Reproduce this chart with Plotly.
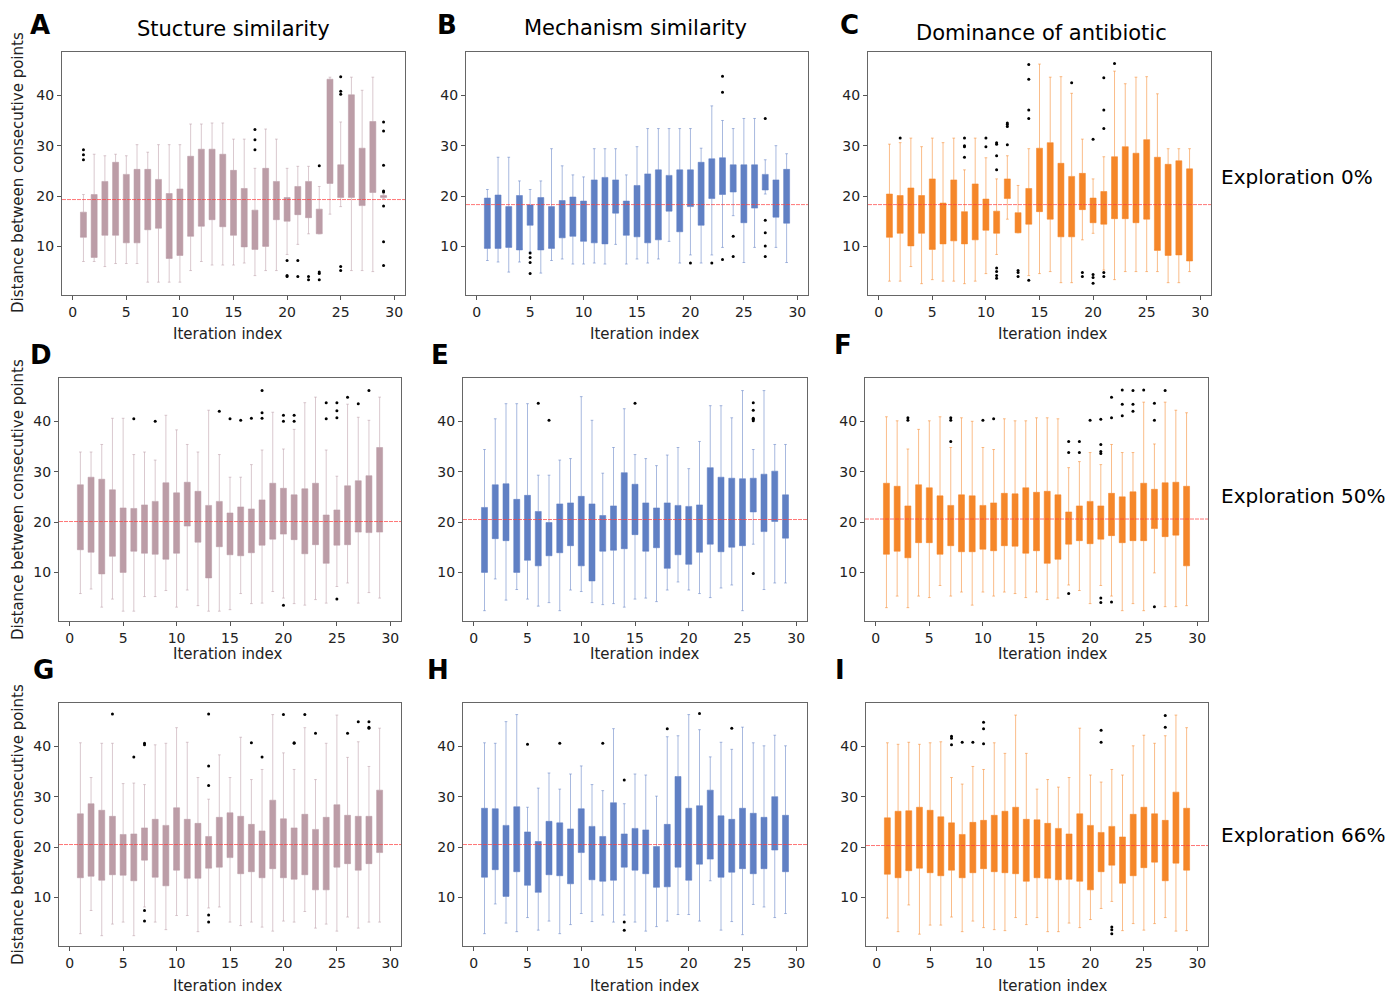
import plotly.graph_objects as go

# ---------------- data ----------------
iterations = list(range(1, 30))
x_ticks = [0, 5, 10, 15, 20, 25, 30]
y_ticks = [10, 20, 30, 40]

col_titles = ["Stucture similarity", "Mechanism similarity", "Dominance of antibiotic"]
row_labels = ["Exploration 0%", "Exploration 50%", "Exploration 66%"]
panel_letters = ["A", "B", "C", "D", "E", "F", "G", "H", "I"]
y_title = "Distance between consecutive points"
x_title = "Iteration index"

# Panel A
A_q1 = [11.8, 7.8, 12.2, 12.2, 10.7, 10.7, 13.3, 13.6, 7.6, 8.2, 12.0, 14.0, 15.3, 13.9, 12.2, 9.9, 9.4, 10.0, 15.3, 15.0, 16.3, 15.7, 12.5, 22.5, 19.7, 19.7, 18.1, 20.7, 19.7]
A_q3 = [16.8, 20.3, 22.9, 26.7, 24.3, 25.3, 25.3, 23.3, 20.5, 21.4, 27.9, 29.3, 29.3, 28.3, 25.1, 21.5, 17.2, 25.5, 22.9, 19.7, 21.9, 22.9, 17.4, 43.2, 26.2, 40.1, 29.5, 34.8, 20.1]
A_lo = [7.0, 7.0, 6.0, 6.6, 6.6, 6.6, 2.9, 2.9, 2.9, 2.9, 5.2, 7.0, 6.3, 6.3, 6.3, 6.7, 4.2, 5.2, 5.2, 8.4, 10.4, 12.5, 12.5, 16.4, 17.9, 5.2, 5.2, 5.0, 19.5]
A_hi = [20.3, 28.3, 28.0, 28.3, 28.0, 30.2, 28.7, 30.2, 30.2, 30.2, 34.3, 34.3, 34.5, 34.5, 31.3, 31.3, 25.5, 33.3, 31.3, 25.5, 25.9, 25.9, 21.9, 43.6, 34.7, 43.6, 41.0, 43.6, 20.4]
A_out_x = [1, 1, 1, 17, 17, 17, 20, 20, 20, 21, 21, 22, 22, 23, 23, 23, 23, 25, 25, 25, 25, 25, 29, 29, 29, 29, 29, 29, 29, 29]
A_out_y = [27.2, 28.2, 29.2, 29.2, 31.2, 33.2, 4.0, 4.2, 7.2, 4.0, 7.2, 3.4, 4.0, 26.0, 4.6, 4.9, 3.4, 40.2, 40.8, 43.7, 5.2, 6.0, 34.7, 32.9, 26.1, 21.0, 20.8, 18.0, 10.9, 6.2]
A_mean = 19.3

# Panel B
B_q1 = [9.6, 9.6, 9.8, 9.3, 14.2, 9.3, 9.6, 11.7, 12.0, 11.0, 10.7, 10.5, 16.6, 12.2, 11.9, 10.7, 11.3, 17.0, 12.9, 17.9, 14.2, 19.5, 20.3, 20.8, 14.7, 17.6, 21.2, 15.8, 14.6]
B_q3 = [19.6, 20.2, 17.9, 20.1, 18.2, 19.7, 17.9, 19.1, 19.8, 19.0, 23.2, 23.7, 23.2, 19.0, 22.1, 24.4, 25.2, 24.1, 25.2, 25.2, 26.7, 27.4, 27.6, 26.2, 26.2, 26.2, 24.3, 23.2, 25.3]
B_lo = [7.2, 6.9, 4.9, 6.9, 8.9, 4.7, 7.2, 7.5, 6.5, 6.5, 6.7, 6.5, 10.4, 6.5, 7.5, 6.7, 7.5, 11.0, 6.7, 8.3, 6.7, 8.3, 9.8, 16.1, 6.8, 9.8, 20.4, 9.8, 6.8]
B_hi = [21.3, 27.7, 27.7, 23.0, 21.3, 23.0, 29.4, 26.0, 24.2, 23.8, 29.4, 29.4, 29.4, 24.2, 29.8, 33.4, 33.4, 33.4, 33.4, 33.4, 29.5, 37.9, 35.0, 33.4, 35.4, 35.4, 27.2, 30.0, 28.4]
B_out_x = [5, 5, 5, 5, 20, 22, 23, 23, 23, 24, 24, 27, 27, 27, 27, 27]
B_out_y = [8.7, 7.8, 6.8, 4.6, 6.7, 6.7, 43.8, 40.6, 7.4, 12.0, 8.0, 35.4, 15.2, 12.7, 10.1, 8.0]
B_mean = 18.3

# Panel C
C_q1 = [11.8, 12.6, 10.1, 12.6, 9.4, 10.5, 11.1, 10.5, 11.3, 13.2, 12.6, 19.5, 12.7, 14.4, 16.9, 15.4, 11.9, 11.9, 17.3, 14.7, 14.4, 15.5, 15.5, 14.7, 15.4, 9.2, 8.2, 8.3, 7.1]
C_q3 = [20.4, 20.1, 21.6, 20.1, 23.4, 18.6, 23.2, 16.9, 22.4, 19.4, 17.0, 23.4, 16.7, 21.5, 29.5, 30.6, 26.5, 23.9, 24.5, 19.6, 20.9, 27.8, 29.8, 28.5, 31.2, 27.7, 26.3, 27.0, 25.4]
C_lo = [3.1, 3.1, 6.0, 2.6, 3.4, 3.1, 3.1, 2.6, 3.1, 4.6, 8.4, 15.4, 12.7, 4.2, 4.6, 5.0, 2.8, 2.8, 11.3, 12.6, 5.3, 3.4, 5.0, 5.0, 5.0, 5.0, 2.8, 2.8, 5.0]
C_hi = [30.3, 30.6, 31.5, 29.8, 31.5, 30.6, 31.5, 25.2, 31.5, 27.6, 23.4, 28.0, 22.1, 29.4, 46.2, 43.6, 43.7, 40.4, 31.3, 23.4, 27.8, 44.8, 42.3, 43.6, 43.7, 40.3, 29.4, 29.4, 29.4]
C_out_x = [2, 8, 8, 8, 8, 10, 10, 11, 11, 11, 11, 11, 11, 11, 11, 12, 12, 12, 12, 13, 13, 13, 14, 14, 14, 14, 14, 18, 19, 19, 20, 20, 20, 20, 21, 21, 21, 21, 21, 22]
C_out_y = [31.5, 27.7, 29.8, 30.0, 31.5, 29.8, 31.5, 25.2, 28.0, 30.3, 30.6, 5.7, 5.0, 4.2, 3.7, 30.2, 33.8, 34.2, 34.5, 5.2, 4.8, 4.0, 35.4, 37.1, 43.2, 46.1, 3.3, 42.5, 4.8, 4.0, 31.3, 4.4, 3.8, 2.7, 43.5, 37.1, 33.4, 4.8, 4.0, 46.3]
C_mean = 18.3

# Panel D
D_q1 = [14.5, 14.0, 9.7, 13.2, 10.0, 14.2, 13.8, 13.6, 12.6, 13.8, 19.2, 16.0, 8.9, 15.1, 13.5, 13.3, 13.9, 15.4, 16.6, 17.6, 16.5, 13.7, 15.5, 11.8, 15.4, 15.5, 18.0, 17.9, 18.0]
D_q3 = [27.4, 28.9, 28.5, 26.4, 22.8, 22.7, 23.4, 24.1, 27.8, 25.8, 27.9, 26.1, 23.3, 24.1, 21.8, 23.0, 22.6, 24.4, 27.7, 26.7, 25.4, 26.6, 27.7, 21.4, 22.4, 27.2, 28.2, 29.2, 34.8]
D_lo = [5.8, 6.7, 3.1, 4.7, 2.3, 2.3, 5.2, 5.2, 6.4, 3.1, 6.5, 3.4, 2.3, 2.3, 2.6, 5.8, 3.8, 3.9, 6.2, 4.9, 3.8, 3.5, 4.6, 3.9, 7.2, 7.9, 3.9, 6.0, 4.9]
D_hi = [33.9, 33.9, 35.4, 40.6, 40.6, 33.4, 33.9, 32.3, 41.2, 38.3, 35.4, 33.9, 42.2, 33.4, 28.9, 28.9, 31.4, 34.3, 41.8, 34.5, 38.4, 43.7, 44.8, 34.3, 29.1, 43.4, 40.8, 40.2, 44.8]
D_out_x = [6, 8, 14, 15, 16, 17, 18, 18, 18, 20, 20, 20, 21, 21, 24, 24, 25, 25, 25, 25, 26, 27, 28]
D_out_y = [40.5, 40.0, 42.0, 40.5, 40.2, 40.6, 40.6, 41.7, 46.1, 40.0, 41.2, 3.5, 40.0, 41.2, 40.5, 43.7, 40.7, 42.1, 43.7, 4.7, 44.8, 43.5, 46.1]
D_mean = 20.1

# Panel E
E_q1 = [10.0, 16.7, 16.3, 10.0, 12.4, 11.3, 13.3, 13.9, 15.3, 11.3, 8.3, 14.2, 14.4, 14.7, 17.5, 14.2, 14.9, 10.8, 13.5, 11.6, 14.0, 15.6, 14.1, 15.0, 15.3, 22.0, 18.1, 20.1, 16.8]
E_q3 = [22.9, 27.4, 27.6, 24.5, 25.3, 22.1, 19.9, 23.6, 23.8, 25.1, 23.6, 21.3, 23.2, 29.8, 27.5, 23.8, 22.8, 23.8, 23.3, 23.1, 23.4, 30.8, 28.9, 28.7, 28.6, 28.7, 29.5, 30.1, 25.4]
E_lo = [2.4, 8.7, 4.5, 6.6, 4.7, 3.3, 4.0, 2.4, 6.5, 6.2, 4.0, 3.6, 3.8, 3.1, 4.7, 4.9, 4.2, 6.5, 8.1, 6.5, 5.8, 5.0, 6.9, 7.5, 2.4, 15.6, 6.6, 7.9, 7.9]
E_hi = [34.4, 40.5, 43.5, 43.5, 43.5, 29.3, 29.3, 32.3, 32.6, 44.9, 40.2, 29.7, 34.8, 42.5, 33.4, 32.6, 31.2, 33.3, 34.8, 30.6, 36.0, 43.1, 43.1, 40.7, 46.1, 34.4, 46.1, 35.4, 35.4]
E_out_x = [6, 7, 15, 26, 26, 26, 26, 26, 26]
E_out_y = [43.6, 40.2, 43.6, 40.1, 40.4, 40.6, 42.2, 43.7, 9.8]
E_mean = 20.5

# Panel F
F_q1 = [13.6, 14.2, 12.9, 15.9, 15.9, 13.6, 15.3, 14.1, 14.1, 14.6, 14.3, 15.3, 15.2, 13.8, 14.3, 11.8, 12.6, 15.6, 16.3, 15.7, 16.6, 17.3, 15.9, 16.3, 16.3, 18.7, 17.1, 17.4, 11.3]
F_q3 = [27.7, 27.1, 23.2, 27.4, 26.8, 25.2, 23.3, 25.4, 25.2, 23.3, 23.8, 25.7, 25.6, 26.8, 25.9, 26.1, 25.4, 22.0, 23.2, 24.1, 23.2, 25.7, 25.0, 26.0, 27.7, 26.5, 27.8, 27.9, 27.1]
F_lo = [3.0, 5.3, 3.0, 5.3, 5.0, 7.4, 5.3, 6.1, 3.5, 6.1, 5.3, 6.1, 5.8, 5.0, 6.1, 4.6, 4.9, 7.5, 6.4, 3.8, 7.4, 5.3, 2.4, 3.8, 2.4, 9.9, 3.2, 3.2, 3.4]
F_hi = [40.9, 40.1, 34.5, 38.4, 40.1, 40.9, 34.8, 40.7, 40.0, 34.8, 34.4, 40.5, 40.1, 40.1, 40.7, 40.7, 40.5, 30.8, 32.0, 33.8, 31.4, 35.4, 33.8, 33.8, 43.8, 35.5, 43.8, 42.2, 41.7]
F_out_x = [3, 3, 7, 7, 7, 10, 11, 18, 18, 18, 19, 19, 20, 21, 21, 21, 21, 21, 21, 22, 22, 22, 23, 23, 23, 24, 24, 24, 25, 26, 26, 26, 27]
F_out_y = [40.2, 40.7, 36.0, 40.2, 40.7, 40.2, 40.5, 33.8, 36.0, 5.8, 33.8, 36.0, 40.2, 33.6, 34.0, 35.4, 40.4, 4.0, 4.9, 40.7, 44.8, 4.1, 41.1, 43.4, 46.2, 42.0, 43.4, 46.1, 46.2, 40.2, 43.6, 3.2, 46.1]
F_mean = 20.6

# Panel G
G_q1 = [13.9, 14.2, 13.4, 14.5, 14.4, 13.3, 17.4, 14.0, 12.3, 15.4, 13.8, 13.8, 15.8, 16.0, 17.9, 14.7, 15.1, 13.9, 15.7, 13.9, 13.6, 14.5, 11.5, 11.5, 16.0, 16.7, 15.4, 16.7, 18.9]
G_q3 = [26.6, 28.6, 27.3, 26.1, 22.5, 22.6, 23.8, 25.5, 24.3, 27.8, 25.5, 24.7, 22.1, 25.9, 26.8, 26.1, 24.5, 23.2, 29.3, 25.6, 23.8, 26.5, 23.5, 25.9, 28.4, 26.3, 26.1, 26.1, 31.3]
G_lo = [2.8, 7.4, 2.4, 4.7, 5.1, 2.4, 8.1, 5.1, 3.6, 6.4, 6.4, 3.2, 7.9, 8.1, 5.1, 4.4, 5.1, 4.1, 3.3, 5.3, 5.1, 7.2, 3.9, 4.7, 3.3, 6.1, 3.9, 5.1, 5.1]
G_hi = [40.7, 33.8, 40.6, 40.6, 32.6, 32.7, 32.4, 40.3, 40.6, 43.7, 40.8, 33.8, 29.5, 38.3, 33.8, 41.8, 33.4, 35.4, 46.3, 38.7, 35.4, 43.7, 33.4, 40.6, 46.2, 37.8, 40.9, 36.0, 43.6]
G_out_x = [4, 6, 7, 7, 7, 7, 13, 13, 13, 13, 13, 17, 18, 20, 21, 21, 22, 23, 26, 27, 28, 28, 28]
G_out_y = [46.4, 37.9, 40.3, 40.6, 7.4, 5.3, 32.2, 36.1, 46.4, 6.5, 5.1, 40.7, 37.9, 46.3, 40.6, 40.7, 46.3, 42.6, 42.6, 44.9, 43.6, 43.8, 44.9]
G_mean = 20.5

# Panel H
H_q1 = [14.0, 15.5, 10.2, 15.1, 12.4, 11.0, 14.5, 14.3, 12.7, 18.9, 13.5, 13.2, 13.4, 16.0, 15.4, 14.7, 12.0, 12.1, 16.0, 13.4, 16.6, 17.6, 14.0, 15.0, 15.7, 14.7, 15.7, 19.4, 15.1]
H_q3 = [27.7, 27.6, 24.3, 28.0, 23.0, 21.1, 25.1, 24.8, 23.6, 27.6, 24.1, 22.1, 28.8, 22.6, 23.7, 23.4, 20.1, 24.5, 34.0, 27.7, 28.2, 31.3, 26.2, 25.5, 27.7, 26.7, 25.9, 30.0, 26.3]
H_lo = [2.8, 8.7, 4.9, 3.2, 6.0, 3.5, 5.3, 2.8, 4.6, 6.8, 5.2, 6.5, 5.1, 6.5, 5.1, 3.3, 4.2, 5.3, 6.6, 6.6, 5.3, 13.3, 3.5, 5.2, 2.6, 8.6, 8.1, 6.0, 6.8]
H_hi = [40.7, 40.6, 44.9, 46.3, 27.9, 31.7, 34.7, 31.5, 34.5, 36.1, 32.4, 31.2, 43.5, 28.6, 34.5, 34.3, 30.1, 41.9, 42.1, 46.3, 43.3, 37.9, 40.8, 39.4, 43.8, 40.7, 40.1, 42.2, 40.1]
H_out_x = [5, 8, 12, 14, 14, 14, 18, 21, 24]
H_out_y = [40.4, 40.6, 40.6, 33.3, 5.1, 3.5, 43.5, 46.5, 43.6]
H_mean = 20.5

# Panel I
I_q1 = [14.6, 13.9, 15.3, 15.8, 14.9, 14.3, 15.4, 13.9, 14.9, 15.7, 15.1, 14.9, 14.7, 13.2, 13.9, 13.8, 13.5, 13.6, 13.2, 11.5, 15.1, 16.4, 12.8, 14.3, 15.9, 17.0, 13.3, 16.8, 15.4]
I_q3 = [25.8, 27.1, 27.2, 27.9, 27.3, 26.0, 24.8, 22.5, 24.9, 25.3, 26.3, 27.1, 27.9, 25.5, 25.4, 24.7, 23.7, 22.6, 26.6, 24.3, 22.9, 24.1, 22.0, 26.5, 27.9, 26.6, 25.3, 30.9, 27.7]
I_lo = [5.9, 3.2, 8.5, 2.7, 4.5, 4.5, 6.1, 3.2, 5.3, 4.0, 3.6, 3.4, 6.0, 4.6, 6.0, 3.2, 3.2, 4.9, 4.0, 5.6, 7.8, 9.2, 3.4, 4.8, 3.5, 4.8, 6.0, 3.3, 3.4]
I_hi = [40.7, 40.4, 40.8, 40.4, 40.7, 40.9, 33.8, 32.5, 36.0, 35.4, 40.7, 38.6, 46.2, 38.6, 31.5, 33.4, 31.9, 33.8, 43.6, 34.3, 32.9, 35.4, 34.3, 40.1, 42.2, 40.6, 42.1, 46.2, 43.7]
I_out_x = [7, 7, 7, 8, 9, 10, 10, 10, 21, 21, 22, 22, 22, 27, 27]
I_out_y = [40.3, 41.6, 42.0, 40.8, 40.8, 40.5, 43.5, 44.8, 40.8, 43.2, 2.8, 3.6, 4.1, 43.8, 46.1]
I_mean = 20.3

# ---------------- styling ----------------
OFF = 8                      # page body margin
W, H = 1395, 996 - OFF
FONT = "DejaVu Sans"
col_colors = [(188, 157, 167), (96, 128, 196), (245, 135, 42)]


def px(x):
    return (x - OFF) / W


def py(y):
    return 1 - (y - OFF) / H


# panel frames in window pixels: (left, right, top, bottom)
frames = [
    (62, 405, 52, 295), (466, 808, 52, 295), (868, 1211, 52, 295),
    (59, 401, 378, 621), (463, 807, 378, 621), (865, 1208, 378, 621),
    (59, 401, 703, 946), (463, 807, 703, 946), (866, 1208, 703, 946),
]

panels = [
    (A_q1, A_q3, A_lo, A_hi, A_out_x, A_out_y, A_mean),
    (B_q1, B_q3, B_lo, B_hi, B_out_x, B_out_y, B_mean),
    (C_q1, C_q3, C_lo, C_hi, C_out_x, C_out_y, C_mean),
    (D_q1, D_q3, D_lo, D_hi, D_out_x, D_out_y, D_mean),
    (E_q1, E_q3, E_lo, E_hi, E_out_x, E_out_y, E_mean),
    (F_q1, F_q3, F_lo, F_hi, F_out_x, F_out_y, F_mean),
    (G_q1, G_q3, G_lo, G_hi, G_out_x, G_out_y, G_mean),
    (H_q1, H_q3, H_lo, H_hi, H_out_x, H_out_y, H_mean),
    (I_q1, I_q3, I_lo, I_hi, I_out_x, I_out_y, I_mean),
]

fig = go.Figure()
layout = dict(
    width=W, height=H, margin=dict(l=0, r=0, t=0, b=0),
    paper_bgcolor="white", plot_bgcolor="white", showlegend=False,
    font=dict(family=FONT, color="#222"),
)
shapes = []
annotations = []

for i, (q1, q3, lo, hi, ox, oy, mean) in enumerate(panels):
    r, c = divmod(i, 3)
    k = "" if i == 0 else str(i + 1)
    xa, ya = "x" + k, "y" + k
    rgb = col_colors[c]
    solid = "rgb(%d,%d,%d)" % rgb
    soft = "rgba(%d,%d,%d,0.55)" % rgb
    # medians are not drawn in the reference (box is uniformly filled);
    # the median line is blended into the fill colour
    fig.add_trace(go.Box(
        x=iterations, q1=q1, median=q1, q3=q3, lowerfence=lo, upperfence=hi,
        width=0.56, whiskerwidth=0.45, fillcolor=solid,
        line=dict(color=soft, width=1), boxpoints=False,
        xaxis=xa, yaxis=ya, hoverinfo="skip",
    ))
    fig.add_trace(go.Scatter(
        x=ox, y=oy, mode="markers", xaxis=xa, yaxis=ya,
        marker=dict(color="black", size=3), hoverinfo="skip",
    ))
    L, R, T, B = frames[i]
    layout["xaxis" + k] = dict(
        domain=[px(L), px(R)], anchor=ya, range=[-1.0, 31.0],
        tickvals=x_ticks, ticks="outside", ticklen=4, tickcolor="#555",
        showline=True, mirror=True, linecolor="#666", linewidth=1,
        showgrid=False, zeroline=False, tickfont=dict(size=14, family=FONT, color="#222"),
    )
    layout["yaxis" + k] = dict(
        domain=[py(B), py(T)], anchor=xa, range=[0.35, 48.6],
        tickvals=y_ticks, ticks="outside", ticklen=4, tickcolor="#555",
        showline=True, mirror=True, linecolor="#666", linewidth=1,
        showgrid=False, zeroline=False, tickfont=dict(size=14, family=FONT, color="#222"),
    )
    shapes.append(dict(
        type="line", xref=xa + " domain", yref=ya, x0=0, x1=1, y0=mean, y1=mean,
        line=dict(color="rgba(255,60,60,0.7)", width=1, dash="4px,1px"), layer="above",
    ))

# panel letters
letter_pos = [(40, 25), (447, 25), (849, 25), (41, 355), (440, 355), (843, 345),
              (43, 670), (438, 670), (840, 670)]
for t, (lx, ly) in zip(panel_letters, letter_pos):
    annotations.append(dict(text="<b>%s</b>" % t, x=px(lx), y=py(ly), xref="paper", yref="paper",
                            showarrow=False, xanchor="center", yanchor="middle",
                            font=dict(size=26, family=FONT, color="black")))
# column titles
for t, (tx, ty) in zip(col_titles, [(233, 29), (635, 28), (1041, 33)]):
    annotations.append(dict(text=t, x=px(tx), y=py(ty), xref="paper", yref="paper",
                            showarrow=False, xanchor="center", yanchor="middle",
                            font=dict(size=21, family=FONT, color="black")))
# row labels
for t, ty in zip(row_labels, [177, 496, 835]):
    annotations.append(dict(text=t, x=px(1219), y=py(ty), xref="paper", yref="paper",
                            showarrow=False, xanchor="left", yanchor="middle",
                            font=dict(size=20, family=FONT, color="black")))
# y titles
for ty in [173, 500, 825]:
    annotations.append(dict(text=y_title, x=px(18), y=py(ty), xref="paper", yref="paper",
                            showarrow=False, xanchor="center", yanchor="middle", textangle=-90,
                            font=dict(size=15, family=FONT, color="#222")))
# x titles
for ty in [334, 654, 986]:
    for tx in [228, 645, 1053]:
        annotations.append(dict(text=x_title, x=px(tx), y=py(ty), xref="paper", yref="paper",
                                showarrow=False, xanchor="center", yanchor="middle",
                                font=dict(size=15, family=FONT, color="#222")))

layout["shapes"] = shapes
layout["annotations"] = annotations
fig.update_layout(**layout)
fig.write_html("out.html")
